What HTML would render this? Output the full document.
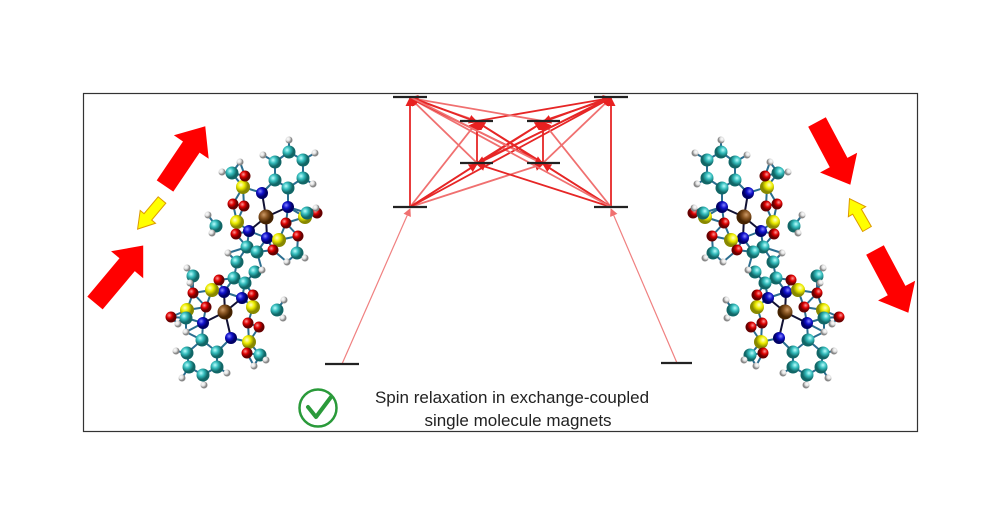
<!DOCTYPE html>
<html><head><meta charset="utf-8"><style>
html,body{margin:0;padding:0;background:#fff;}
svg{display:block}
</style></head><body>
<svg id="s" width="1000" height="523" viewBox="0 0 1000 523" xmlns="http://www.w3.org/2000/svg">
<defs>
<marker id="ah" markerWidth="9" markerHeight="9" refX="8" refY="4.5" orient="auto" markerUnits="userSpaceOnUse"><path d="M0,0 L9,4.5 L0,9 Z" fill="#e82020"/></marker>
<marker id="ah2" markerWidth="8" markerHeight="8" refX="7" refY="4" orient="auto" markerUnits="userSpaceOnUse"><path d="M0,0 L8,4 L0,8 Z" fill="#f07070"/></marker>
<radialGradient id="gc" cx="35%" cy="35%"><stop offset="0" stop-color="#bff"/><stop offset="0.5" stop-color="#3bb"/><stop offset="1" stop-color="#166"/></radialGradient>
<radialGradient id="gb" cx="35%" cy="35%"><stop offset="0" stop-color="#88f"/><stop offset="0.5" stop-color="#11c"/><stop offset="1" stop-color="#006"/></radialGradient>
<radialGradient id="gy" cx="35%" cy="35%"><stop offset="0" stop-color="#ffc"/><stop offset="0.5" stop-color="#ee0"/><stop offset="1" stop-color="#880"/></radialGradient>
<radialGradient id="gr" cx="35%" cy="35%"><stop offset="0" stop-color="#f99"/><stop offset="0.5" stop-color="#d00"/><stop offset="1" stop-color="#600"/></radialGradient>
<radialGradient id="gw" cx="35%" cy="35%"><stop offset="0" stop-color="#fff"/><stop offset="0.6" stop-color="#ddd"/><stop offset="1" stop-color="#888"/></radialGradient>
<radialGradient id="gm" cx="35%" cy="35%"><stop offset="0" stop-color="#c96"/><stop offset="0.5" stop-color="#852"/><stop offset="1" stop-color="#420"/></radialGradient>
</defs>
<rect x="83.5" y="93.5" width="834" height="338" fill="#fff" stroke="#333" stroke-width="1.2"/>
<g id="arrows" stroke-width="1.8" fill="none"></g>
<g id="levels" stroke="#222" stroke-width="2.2">
<line x1="393" y1="97" x2="427" y2="97"/><line x1="594" y1="97" x2="628" y2="97"/>
<line x1="460" y1="121" x2="493" y2="121"/><line x1="527" y1="121" x2="560" y2="121"/>
<line x1="460" y1="163" x2="493" y2="163"/><line x1="527" y1="163" x2="560" y2="163"/>
<line x1="393" y1="207" x2="427" y2="207"/><line x1="594" y1="207" x2="628" y2="207"/>
<line x1="325" y1="364" x2="359" y2="364"/><line x1="661" y1="363" x2="692" y2="363"/>
</g>
<g id="molL"></g>
<g id="molR" transform="translate(1010,0) scale(-1,1)"></g>
<g>
<polygon points="0,-10 47,-10 47,-21 72,0 47,21 47,10 0,10" fill="#f00" transform="translate(165,186) rotate(-56)"/>
<polygon points="0,-10 50,-10 50,-21 75,0 50,21 50,10 0,10" fill="#f00" transform="translate(95,303) rotate(-50)"/>
<polygon points="0,-5 22,-5 22,-10 38,0 22,10 22,5 0,5" fill="#ff0" stroke="#d90" stroke-width="1" transform="translate(162,200) rotate(130)"/>
<polygon points="0,-10 46,-10 46,-21 71,0 46,21 46,10 0,10" fill="#f00" transform="translate(817,122) rotate(62)"/>
<polygon points="0,-10 46,-10 46,-21 71,0 46,21 46,10 0,10" fill="#f00" transform="translate(875,250) rotate(62)"/>
<polygon points="0,-5 20,-5 20,-10 35,0 20,10 20,5 0,5" fill="#ff0" stroke="#d90" stroke-width="1" transform="translate(867,229) rotate(-120)"/>
</g>
<circle cx="318" cy="408" r="18.5" fill="none" stroke="#2a9a3a" stroke-width="2.5"/>
<path d="M308,407 L316,417 L331,397" fill="none" stroke="#2a9a3a" stroke-width="4" stroke-linecap="round" stroke-linejoin="round"/>
<text x="512" y="403" text-anchor="middle" font-family="Liberation Sans, sans-serif" font-size="17" fill="#222">Spin relaxation in exchange-coupled</text>
<text x="518" y="426" text-anchor="middle" font-family="Liberation Sans, sans-serif" font-size="17" fill="#222">single molecule magnets</text>
</svg>
<script>
var NS="http://www.w3.org/2000/svg";
function el(p,t,a){var e=document.createElementNS(NS,t);for(var k in a)e.setAttribute(k,a[k]);p.appendChild(e);return e;}
var A=document.getElementById('arrows');
var TL=[410,97],TR=[611,97],UL=[477,121],UR=[543,121],LL=[477,163],LR=[543,163],BL=[410,207],BR=[611,207],GL=[342,364],GR=[677,363];
var pairs=[[BL,TL],[BR,TR],[BL,UL],[BL,UR],[BL,LL],[BL,LR],[BL,TR],[BR,UL],[BR,UR],[BR,LL],[BR,LR],[BR,TL],
[LL,UL],[LR,UR],[LL,TL],[LL,TR],[LR,TL],[LR,TR],[LL,UR],[LR,UL],[UL,TL],[UR,TR],[UL,TR],[UR,TL],[TL,UL],[TR,UR],[TL,LR],[TR,LL]];
pairs.forEach(function(p,i){el(A,'line',{x1:p[0][0],y1:p[0][1],x2:p[1][0],y2:p[1][1]+1,stroke:i%3==2?'#f07070':'#e62626','marker-end':'url(#ah)'});});
el(A,'line',{x1:GL[0],y1:GL[1],x2:BL[0],y2:BL[1]+2,stroke:'#f08080','stroke-width':1.2,'marker-end':'url(#ah2)'});
el(A,'line',{x1:GR[0],y1:GR[1],x2:BR[0],y2:BR[1]+2,stroke:'#f08080','stroke-width':1.2,'marker-end':'url(#ah2)'});
var atoms=[
['c',289,152],['c',303,160],['c',303,178],['c',288,188],['c',275,180],['c',275,162],
['b',262,193],['b',288,207],['b',249,231],['b',267,238],
['y',243,187],['y',237,222],['y',279,240],['y',305,217],
['r',245,176],['r',233,204],['r',244,206],['r',236,234],['r',286,223],['r',273,250],['r',298,236],['r',317,213],
['c',232,173],['c',216,226],['c',297,253],['c',307,213],
['c',247,247],['c',257,252],['c',237,262],['c',255,272],['c',234,278],['c',245,283],
['b',224,292],['b',242,298],['b',203,323],['b',231,338],
['y',212,290],['y',253,307],['y',187,310],['y',249,342],
['r',219,280],['r',193,293],['r',206,307],['r',253,295],['r',248,323],['r',171,317],['r',259,327],['r',247,353],
['c',193,276],['c',277,310],['c',186,318],['c',260,355],
['c',202,340],['c',187,353],['c',189,367],['c',203,375],['c',217,367],['c',217,352],
['w',289,140],['w',315,153],['w',313,184],['w',263,155],['w',240,162],['w',222,172],['w',208,215],['w',212,233],['w',305,258],['w',287,262],['w',316,208],
['w',187,268],['w',190,283],['w',284,300],['w',283,318],['w',178,324],['w',186,332],['w',266,360],['w',254,366],['w',176,351],['w',182,378],['w',227,373],['w',204,385],['w',262,270],['w',228,253]];
var M={c:['url(#gc)',6.5],b:['url(#gb)',6],y:['url(#gy)',7],r:['url(#gr)',5.5],w:['url(#gw)',3.5],m:['url(#gm)',7.5]};
function draw(g){
 var L=el(g,'g',{stroke:'#2a6d8f','stroke-width':2});
 for(var i=0;i<atoms.length;i++)for(var j=i+1;j<atoms.length;j++){var a=atoms[i],b=atoms[j];var d=Math.hypot(a[1]-b[1],a[2]-b[2]);if(d<20&&!(a[0]=='w'&&b[0]=='w'))el(L,'line',{x1:a[1],y1:a[2],x2:b[1],y2:b[2]});}
 [[266,217],[225,312]].forEach(function(p){[[262,193],[288,207],[249,231],[267,238],[224,292],[242,298],[203,323],[231,338]].forEach(function(q){if(Math.hypot(p[0]-q[0],p[1]-q[1])<35)el(L,'line',{x1:p[0],y1:p[1],x2:q[0],y2:q[1],stroke:'#113'});});});
 atoms.forEach(function(a){el(g,'circle',{cx:a[1],cy:a[2],r:M[a[0]][1],fill:M[a[0]][0]});});
 el(g,'circle',{cx:266,cy:217,r:7.5,fill:'url(#gm)'});el(g,'circle',{cx:225,cy:312,r:7.5,fill:'url(#gm)'});
}
draw(document.getElementById('molL'));draw(document.getElementById('molR'));
</script>
</body></html>
